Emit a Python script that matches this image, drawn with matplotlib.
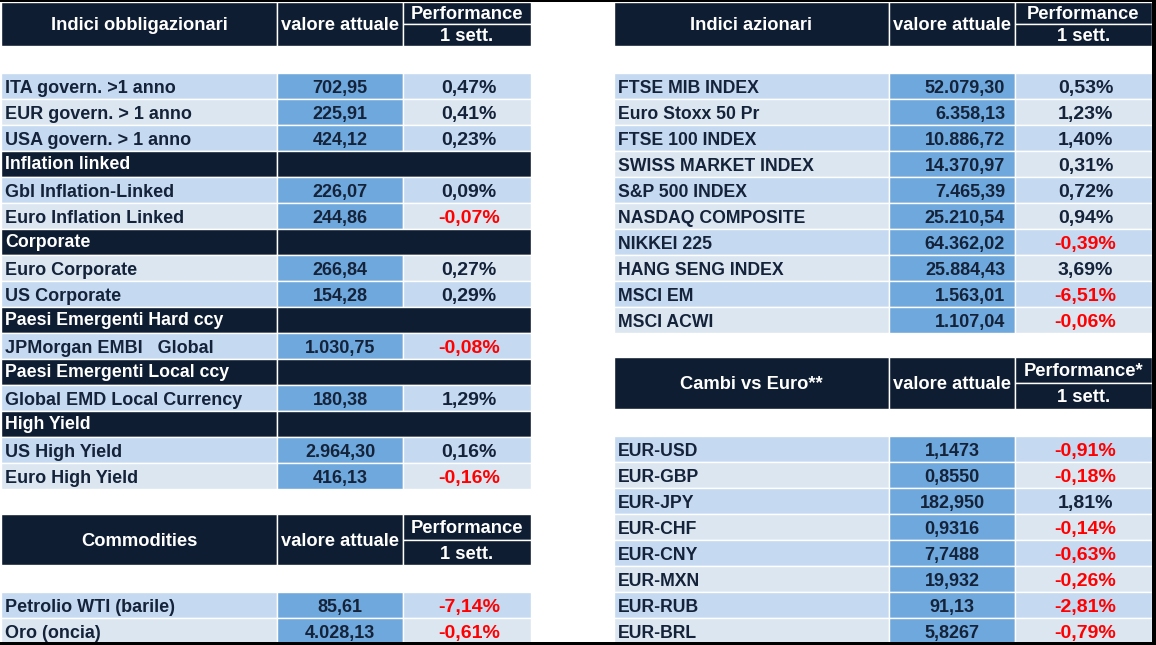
import matplotlib
matplotlib.use("Agg")
import matplotlib.pyplot as plt
from matplotlib.patches import Rectangle

# dati tabella obbligazionari (None = riga di sezione)
bond_names = ["ITA govern. >1 anno", "EUR govern. > 1 anno", "USA govern. > 1 anno",
              "Inflation linked", "Gbl Inflation-Linked", "Euro Inflation Linked",
              "Corporate", "Euro Corporate", "US Corporate",
              "Paesi Emergenti Hard ccy", "JPMorgan EMBI   Global",
              "Paesi Emergenti Local ccy", "Global EMD Local Currency",
              "High Yield", "US High Yield", "Euro High Yield"]
bond_values = ["702,95", "225,91", "424,12", None, "226,07", "244,86", None,
               "266,84", "154,28", None, "1.030,75", None, "180,38", None,
               "2.964,30", "416,13"]
bond_perf = [0.47, 0.41, 0.23, None, 0.09, -0.07, None, 0.27, 0.29, None,
             -0.08, None, 1.29, None, 0.16, -0.16]

comm_names = ["Petrolio WTI (barile)", "Oro (oncia)"]
comm_values = ["85,61", "4.028,13"]
comm_perf = [-7.14, -0.61]

eq_names = ["FTSE MIB INDEX", "Euro Stoxx 50 Pr", "FTSE 100 INDEX", "SWISS MARKET INDEX",
            "S&P 500 INDEX", "NASDAQ COMPOSITE", "NIKKEI 225", "HANG SENG INDEX",
            "MSCI EM", "MSCI ACWI"]
eq_values = ["52.079,30", "6.358,13", "10.886,72", "14.370,97", "7.465,39",
             "25.210,54", "64.362,02", "25.884,43", "1.563,01", "1.107,04"]
eq_perf = [0.53, 1.23, 1.40, 0.31, 0.72, 0.94, -0.39, 3.69, -6.51, -0.06]

fx_names = ["EUR-USD", "EUR-GBP", "EUR-JPY", "EUR-CHF", "EUR-CNY", "EUR-MXN",
            "EUR-RUB", "EUR-BRL"]
fx_values = ["1,1473", "0,8550", "182,950", "0,9316", "7,7488", "19,932",
             "91,13", "5,8267"]
fx_perf = [-0.91, -0.18, 1.81, -0.14, -0.63, -0.26, -2.81, -0.79]

NAVY = "#0e1d31"
BLUE1 = "#c5d9f1"
BLUE2 = "#dce6f1"
VALBLUE = "#6fa8dc"
TXT = "#14233a"
RED = "#ff0000"
FS_HEAD = 13.2   # intestazioni
FS_LAB = 13.0    # etichette tabella sinistra
FS_VAL = 13.0    # valori
FS_PERF = 14.0   # performance
RH = 26

plt.rcParams['font.family'] = ['Liberation Sans', 'DejaVu Sans']

fig = plt.figure(figsize=(11.56, 6.45), dpi=100)
ax = fig.add_axes([0, 0, 1, 1])
ax.set_xlim(0, 1156)
ax.set_ylim(645, 0)
ax.axis("off")


def cell(x0, x1, y0, y1, color):
    ax.add_patch(Rectangle((x0, y0), x1 - x0, y1 - y0, facecolor=color,
                           edgecolor="white", linewidth=1.0))


def fmt_perf(p):
    return ("%.2f%%" % p).replace(".", ",")


def htext(x, y, s):
    ax.text(x, y + 6.3, s, color="white", fontsize=FS_HEAD, weight="bold",
            ha="center", va="baseline")


def header(cols, y0, y1, title, perf_title):
    x0, x1, x2, x3 = cols
    ym = (y0 + y1) / 2
    cell(x0, x1, y0, y1, NAVY)
    cell(x1, x2, y0, y1, NAVY)
    cell(x2, x3, y0, ym, NAVY)
    cell(x2, x3, ym, y1, NAVY)
    htext((x0 + x1) / 2, ym, title)
    htext((x1 + x2) / 2, ym, "valore attuale")
    htext((x2 + x3) / 2, (y0 + ym) / 2, perf_title)
    htext((x2 + x3) / 2, (ym + y1) / 2, "1 sett.")


def rows(cols, y_start, names, values, perfs, val_align="center", label_fs=FS_LAB):
    x0, x1, x2, x3 = cols
    for i, name in enumerate(names):
        y0 = y_start + i * RH
        y1 = y0 + RH
        yb = y0 + 19.7
        if values[i] is None:
            cell(x0, x1, y0, y1, NAVY)
            cell(x1, x3, y0, y1, NAVY)
            ax.text(x0 + 4, y0 + 18.3, name, color="white", fontsize=12.8,
                    weight="bold", ha="left", va="baseline")
            continue
        bg = BLUE1 if i % 2 == 0 else BLUE2
        cell(x0, x1, y0, y1, bg)
        cell(x1, x2, y0, y1, VALBLUE)
        cell(x2, x3, y0, y1, bg)
        ax.text(x0 + 4, yb, name, color=TXT, fontsize=label_fs, weight="bold",
                ha="left", va="baseline")
        if val_align == "right":
            ax.text(x2 - 10, yb, values[i], color=TXT, fontsize=FS_VAL,
                    weight="bold", ha="right", va="baseline")
        else:
            ax.text((x1 + x2) / 2, yb, values[i], color=TXT, fontsize=FS_VAL,
                    weight="bold", ha="center", va="baseline")
        p = perfs[i]
        ax.text((x2 + x3) / 2 + 2, yb, fmt_perf(p), color=RED if p < 0 else TXT,
                fontsize=FS_PERF, weight="bold", ha="center", va="baseline")


left = (1, 277, 403, 531)
right = (614, 889, 1015, 1152)

header(left, 2, 46, "Indici obbligazionari", "Performance")
rows(left, 73, bond_names, bond_values, bond_perf)
header(left, 514, 565, "Commodities", "Performance")
rows(left, 592, comm_names, comm_values, comm_perf)

header(right, 2, 46, "Indici azionari", "Performance")
rows(right, 73, eq_names, eq_values, eq_perf, val_align="right", label_fs=12.7)
header(right, 357, 409, "Cambi vs Euro**", "Performance*")
rows(right, 436, fx_names, fx_values, fx_perf, label_fs=12.7)

# cornice nera (alto, destra, basso)
ax.add_patch(Rectangle((0, 0), 1156, 2, facecolor="black", edgecolor="none"))
ax.add_patch(Rectangle((1152, 0), 4, 645, facecolor="black", edgecolor="none"))
ax.add_patch(Rectangle((0, 642), 1156, 3, facecolor="black", edgecolor="none"))

fig.savefig("out.png", dpi=100)
